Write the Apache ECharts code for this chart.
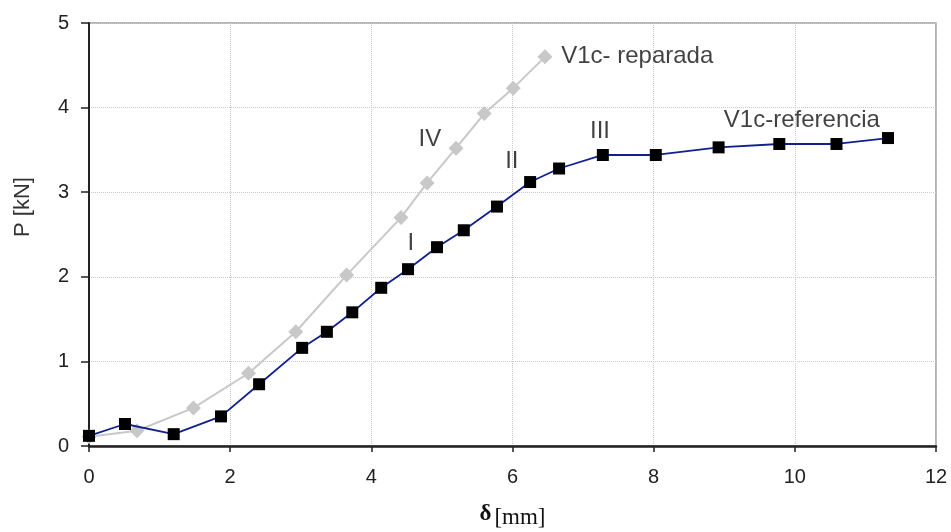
<!DOCTYPE html>
<html>
<head>
<meta charset="utf-8">
<script src="https://cdn.jsdelivr.net/npm/echarts@6/dist/echarts.min.js"></script>
<style>
  html, body { margin: 0; padding: 0; background: #fff; }
  #chart { width: 951px; height: 532px; }
</style>
</head>
<body>
<div id="chart"></div>
<script>
// V1c-referencia (black squares)
const refX = [0, 0.51, 1.20, 1.87, 2.41, 3.02, 3.37, 3.73, 4.14, 4.52, 4.93, 5.31, 5.78, 6.25, 6.66, 7.28, 8.03, 8.92, 9.78, 10.59, 11.32];
const refY = [0.12, 0.26, 0.14, 0.35, 0.73, 1.16, 1.35, 1.58, 1.87, 2.09, 2.35, 2.55, 2.83, 3.12, 3.28, 3.44, 3.44, 3.53, 3.57, 3.57, 3.64];
// V1c- reparada (grey diamonds)
const repX = [0, 0.68, 1.48, 2.26, 2.93, 3.65, 4.42, 4.79, 5.20, 5.60, 6.01, 6.46];
const repY = [0.11, 0.18, 0.45, 0.86, 1.35, 2.02, 2.70, 3.11, 3.52, 3.93, 4.23, 4.60];
// stage labels
const stageText = ['I', 'II', 'III', 'IV'];
const stageX = [4.56, 5.99, 7.24, 4.83];
const stageY = [2.40, 3.37, 3.72, 3.62];
// series names placed on the plot
const nameText = ['V1c- reparada', 'V1c-referencia'];
const nameX = [6.69, 10.1];
const nameY = [4.61, 3.85];
const nameAlign = ['left', 'center'];

const chart = echarts.init(document.getElementById('chart'));

const pair = (xs, ys) => xs.map((x, i) => [x, ys[i]]);

const option = {
  animation: false,
  textStyle: { fontFamily: 'Liberation Sans, Arial, sans-serif' },
  grid: {
    left: 89,
    right: 15,
    top: 23,
    bottom: 86,
    outerBoundsMode: 'none',
    containLabel: false,
    show: true,
    borderColor: '#9a9a9a',
    borderWidth: 1.5,
  },
  xAxis: {
    type: 'value',
    min: 0,
    max: 12,
    interval: 2,
    name: '{d|δ}{u|[mm]}',
    nameLocation: 'middle',
    nameGap: 54,
    nameTextStyle: {
      rich: {
        d: { fontFamily: 'Liberation Serif, serif', fontWeight: 'bold', fontSize: 23, color: '#111' },
        u: { fontFamily: 'Liberation Serif, serif', fontSize: 23, color: '#111', padding: [6, 0, 0, 3] },
      },
    },
    axisLine: { lineStyle: { color: '#222', width: 2.5 } },
    axisTick: { length: 6, lineStyle: { color: '#222', width: 1.5 } },
    axisLabel: { fontSize: 20, color: '#222', margin: 21 },
    splitLine: { show: true, lineStyle: { color: '#c8c8c8', type: 'dotted', width: 1 } },
  },
  yAxis: {
    type: 'value',
    min: 0,
    max: 5,
    interval: 1,
    axisLine: { show: true, lineStyle: { color: '#222', width: 2 } },
    axisTick: { show: true, length: 8, lineStyle: { color: '#222', width: 1.5 } },
    axisLabel: { fontSize: 20, color: '#222', margin: 20 },
    splitLine: { show: true, lineStyle: { color: '#c8c8c8', type: 'dotted', width: 1 } },
  },
  graphic: [
    {
      type: 'text',
      x: 23,
      y: 207,
      rotation: Math.PI / 2,
      style: {
        text: 'P [kN]',
        fill: '#333',
        font: '22px Liberation Sans, Arial, sans-serif',
        align: 'center',
        verticalAlign: 'middle',
      },
    },
  ],
  series: [
    {
      name: 'V1c- reparada',
      type: 'line',
      data: pair(repX, repY),
      symbol: 'diamond',
      symbolSize: 15,
      itemStyle: { color: '#c8c8c8' },
      lineStyle: { color: '#c8c8c8', width: 2 },
      z: 2,
    },
    {
      name: 'V1c-referencia',
      type: 'line',
      data: pair(refX, refY),
      symbol: 'rect',
      symbolSize: 12,
      itemStyle: { color: '#000' },
      lineStyle: { color: '#10208f', width: 1.8 },
      z: 3,
    },
    {
      type: 'scatter',
      symbolSize: 0,
      silent: true,
      data: stageText.map((t, i) => ({ value: [stageX[i], stageY[i]], t })),
      label: {
        show: true,
        position: 'inside',
        formatter: p => p.data.t,
        fontSize: 24,
        color: '#111',
      },
      z: 4,
    },
    {
      type: 'scatter',
      symbolSize: 0,
      silent: true,
      data: nameText.map((t, i) => ({
        value: [nameX[i], nameY[i]],
        t,
        label: { align: nameAlign[i] },
      })),
      label: {
        show: true,
        position: 'inside',
        formatter: p => p.data.t,
        fontSize: 24,
        color: '#111',
      },
      z: 4,
    },
  ],
};

chart.setOption(option);
</script>
</body>
</html>
